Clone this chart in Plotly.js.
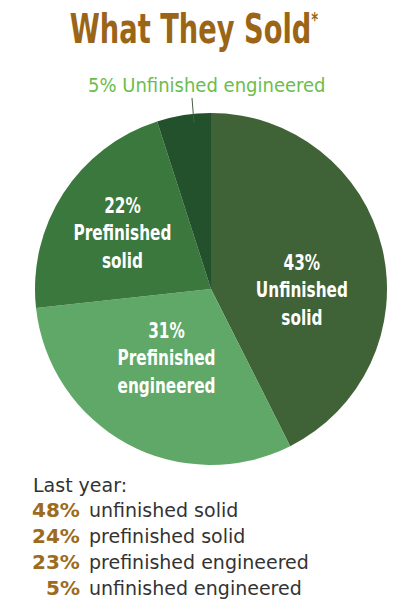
<!DOCTYPE html>
<html>
<head>
<meta charset="utf-8">
<script src="https://cdn.plot.ly/plotly-3.0.1.min.js"></script>
<style>html,body{margin:0;padding:0;background:#fff;}#chart{width:400px;height:608px;}</style>
</head>
<body>
<div id="chart"></div>
<script>
// Data
const categories = ["Unfinished solid", "Prefinished engineered", "Prefinished solid", "Unfinished engineered"];
const shares = [43, 31, 22, 5];
const lastYearLabels = ["unfinished solid", "prefinished solid", "prefinished engineered", "unfinished engineered"];
const lastYearShares = [48, 24, 23, 5];
const titleText = "What They Sold";

// Styles / layout helpers
const W = 400, H = 608;
const px = x => x / W;
const py = y => 1 - y / H;
const sliceColors = ["#406237", "#60a867", "#3a783e", "#22512c"];
const condensed = "'DejaVu Sans Condensed', 'DejaVu Sans', sans-serif";
const plain = "'DejaVu Sans', sans-serif";
const labelPos = [[302, 290], [166, 358], [122, 233]];

const annotations = [];
const squeeze = {}; // annotation index -> horizontal scale
annotations.push({
  text: "<b>" + titleText + "</b><sup><b><span style=\"font-size:20px\">*</span></b></sup>",
  x: px(194), y: py(29), xref: "paper", yref: "paper",
  xanchor: "center", yanchor: "middle", showarrow: false,
  font: {family: condensed, size: 41, color: "#9b6517"}
});
squeeze[annotations.length - 1] = 0.74;
// inside labels for first three slices
for (let i = 0; i < 3; i++) {
  const words = categories[i].split(" ");
  annotations.push({
    text: "<b>" + shares[i] + "%<br>" + words[0] + "<br>" + words[1] + "</b>",
    x: px(labelPos[i][0]), y: py(labelPos[i][1]), xref: "paper", yref: "paper",
    xanchor: "center", yanchor: "middle", showarrow: false, align: "center",
    font: {family: condensed, size: 21, color: "#ffffff"}
  });
  squeeze[annotations.length - 1] = 0.81;
}
// outside label for the small slice
annotations.push({
  text: shares[3] + "% " + categories[3],
  x: px(207), y: py(85), xref: "paper", yref: "paper",
  xanchor: "center", yanchor: "middle", showarrow: false,
  font: {family: condensed, size: 20, color: "#6cbd4c"}
});
// last year block
annotations.push({
  text: "Last year:",
  x: px(31), y: py(485), xref: "paper", yref: "paper",
  xanchor: "left", yanchor: "middle", showarrow: false,
  font: {family: plain, size: 19, color: "#333333"}
});
for (let i = 0; i < lastYearShares.length; i++) {
  const yy = 510 + i * 26;
  annotations.push({
    text: "<b>" + lastYearShares[i] + "%</b>",
    x: px(82), y: py(yy), xref: "paper", yref: "paper",
    xanchor: "right", yanchor: "middle", showarrow: false,
    font: {family: plain, size: 20, color: "#9c6b20"}
  });
  annotations.push({
    text: lastYearLabels[i],
    x: px(87), y: py(yy), xref: "paper", yref: "paper",
    xanchor: "left", yanchor: "middle", showarrow: false,
    font: {family: plain, size: 19, color: "#333333"}
  });
}

const data = [{
  type: "pie",
  labels: categories,
  values: shares,
  sort: false,
  direction: "clockwise",
  rotation: 0,
  textinfo: "none",
  hoverinfo: "label+percent",
  marker: {colors: sliceColors, line: {width: 0}},
  domain: {x: [px(35), px(387)], y: [py(465), py(113)]}
}];

const layout = {
  width: W, height: H,
  margin: {l: 0, r: 0, t: 0, b: 0},
  paper_bgcolor: "#ffffff",
  showlegend: false,
  annotations: annotations,
  shapes: [{
    type: "line", xref: "paper", yref: "paper",
    x0: px(192), y0: py(98), x1: px(194), y1: py(123),
    line: {color: "#4a5a45", width: 1}
  }]
};

Plotly.newPlot("chart", data, layout, {displayModeBar: false, staticPlot: true}).then(gd => {
  Object.keys(squeeze).forEach(k => {
    const g = gd.querySelector('.annotation[data-index="' + k + '"]');
    if (!g) return;
    g.querySelectorAll('text').forEach(t => {
      t.style.transformBox = 'fill-box';
      t.style.transformOrigin = '50% 50%';
      t.style.transform = 'scaleX(' + squeeze[k] + ')';
    });
  });
});
</script>
</body>
</html>
